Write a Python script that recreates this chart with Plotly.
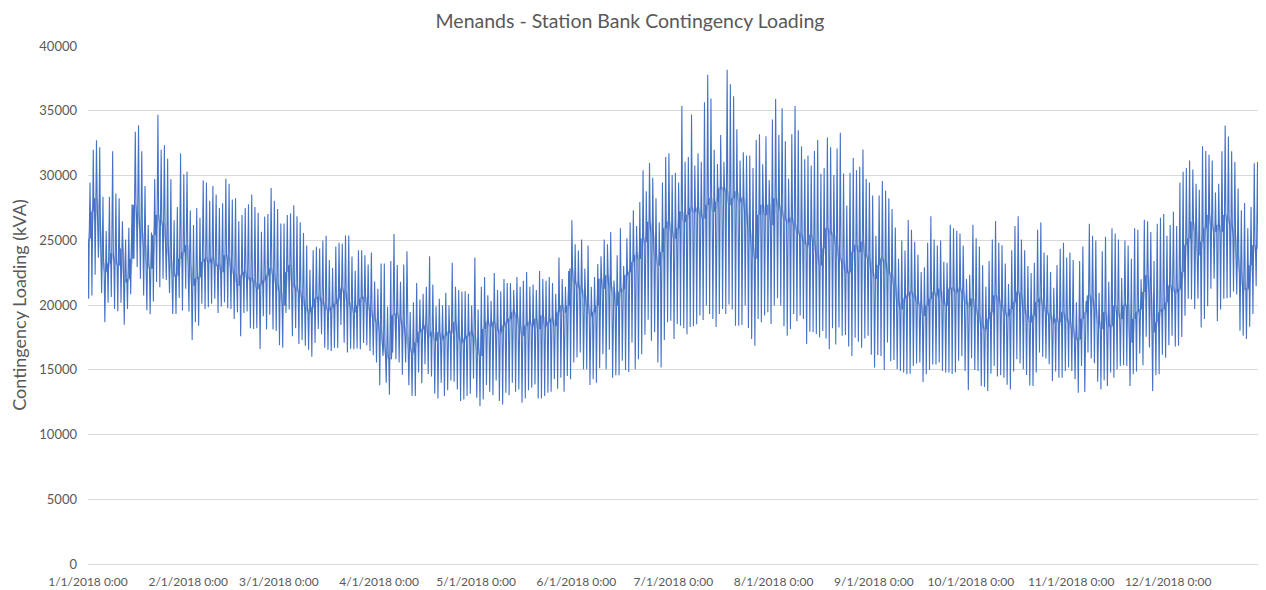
import numpy as np
import pandas as pd
import plotly.graph_objects as go

# Daily peak loading (kVA), starting 1/1/2018
daily_max = [
    29460, 31980, 32730, 32180, 28350, 25710, 28350, 31870, 28610, 28250, 26460, 25060, 25970, 27780, 33370, 33870,
    31870, 29180, 26170, 25600, 29720, 34700, 31980, 32340, 31300, 29720, 26540, 27570, 31690, 30100, 30290, 27290,
    26170, 27490, 26740, 29620, 29460, 28040, 29180, 28530, 27490, 27860, 29750, 29360, 28140, 28250, 26460, 26950,
    27490, 27780, 28530, 27570, 27130,
    25660, 26830, 27030, 29030, 28040, 27420, 26300, 26300, 26950, 27080, 27700, 26850, 26380, 25560, 24600, 22730,
    24230, 24490, 24360, 24980, 25350, 23480, 22860, 24520, 24800, 24720, 25370, 25370, 23740, 22650, 24230, 24230,
    23840, 23120, 24050, 21820, 21260, 23200, 23200, 19860, 23400, 25480, 23090, 21790, 23120, 24150, 19460, 20210,
    21690, 20420, 20860, 21400, 23760,
    21590, 19910, 20480, 19960, 20940, 19960, 23270, 21410, 21150, 21050, 21070, 20870, 19960, 23660, 19650, 21410,
    22160, 20760, 20300, 22470, 21150, 21070, 22000, 21690, 21670, 21150, 22160, 21410, 21870, 22550, 21410, 21590,
    21150, 22630, 22000, 21870, 22160, 21690, 20870, 23660, 22000, 21410, 22630, 26540, 24700, 24210, 25060, 22810,
    24600, 21410, 22160, 23170,
    23770, 25060, 24700, 25630, 21880, 23840, 25920, 23010, 25160, 26380, 27310, 26100, 27960, 30400, 28790, 30970,
    29830, 28250, 26380, 29460, 31430, 31720, 30030, 30220, 29460, 35370, 31070, 31430, 34720, 30780, 31720, 31070,
    35650, 37780, 35940, 31980, 30890, 33120, 31070, 38170, 37050, 36120, 33580, 31150, 31790, 31540, 31540, 30580,
    32750, 33190, 30860, 33040, 29650,
    34330, 35910, 33120, 35190, 32650, 29750, 33190, 35370, 33500, 32260, 31250, 31540, 30780, 31900, 32750, 30140,
    30580, 32930, 32180, 30030, 32080, 33300, 30160, 27680, 30220, 31350, 30400, 30680, 32000, 29750, 29460, 28450,
    25350, 28450, 29570, 28820, 28250, 27420, 25990, 23580, 24980, 24210, 26560, 25810, 24880, 23870, 22550, 22910,
    24800, 26850, 25060, 24600,
    24980, 23330, 23270, 26200, 25920, 25730, 25530, 24600, 22000, 22340, 26200, 25160, 24520, 23070, 21410, 23400,
    25060, 26490, 24800, 24620, 23200, 21620, 24230, 26100, 26850, 25060, 24230, 23010, 22470, 23270, 25810, 26380,
    24050, 23840, 22550, 21330, 23090, 24340, 24800, 23660, 24050, 23480, 20220, 23400, 24520, 20300, 26280, 25350,
    24980, 20940, 24150, 25270, 21800,
    25920, 25530, 25060, 22080, 24980, 24600, 23580, 25920, 25810, 21980, 26590, 26460, 25630, 23400, 26280, 26740,
    27030, 25350, 26170, 27210, 26100, 29460, 30290, 30580, 31150, 30470, 29360, 28890, 32260, 31900, 31610, 31150,
    28690, 29360, 31870, 33870, 33010, 31870, 31040, 29000, 27310, 27880, 25920, 27570, 30940, 31040, 30860, 31250,
]

# Daily minimum loading (kVA)
daily_min = [
    20480, 20740, 22340, 23640, 20920, 18670, 20170, 20610, 19700, 19520, 20170, 18480, 19700, 20840, 23580, 22940,
    22030, 20740, 19600, 19290, 20270, 21770, 21380, 22030, 21930, 20920, 19310, 19310, 20550, 19570, 21250, 19490,
    17290, 18670, 18400, 20090, 19700, 19830, 20090, 20480, 19390, 19880, 20220, 19750, 19700, 18920, 19440, 17580,
    19390, 19490, 18200, 18140, 18200,
    16600, 19130, 18100, 19240, 18100, 17990, 16900, 16700, 19390, 19650, 17580, 18200, 16980, 17290, 16850, 16540,
    16000, 17060, 18150, 17740, 16700, 16540, 16440, 16700, 16700, 18460, 17080, 16330, 16620, 16590, 16640, 16590,
    17060, 16900, 16440, 16130, 15560, 13800, 16070, 14000, 13070, 16330, 15820, 15560, 14620, 15560, 13800, 12970,
    12970, 14780, 13950, 15430, 14670,
    14470, 13150, 12780, 14000, 12970, 13410, 14180, 14080, 13480, 12580, 12710, 12970, 13150, 14310, 12840, 12190,
    12710, 13820, 13300, 13040, 14180, 12580, 12320, 13220, 13040, 14000, 13300, 13480, 12450, 12780, 13410, 13610,
    13870, 12780, 12780, 12970, 13220, 13300, 14260, 13540, 14390, 13300, 14520, 14260, 15560, 15940, 16330, 15040,
    15040, 13820, 14260, 14000,
    15120, 16200, 15040, 16540, 14390, 14570, 14570, 15690, 14990, 14830, 17110, 15040, 15820, 16200, 17710, 18870,
    17240, 17890, 15560, 15170, 17290, 18670, 18790, 17370, 18530, 18400, 18200, 17740, 18300, 18350, 18510, 19180,
    18840, 19960, 19310, 18920, 18300, 19310, 19700, 19310, 20040, 19650, 18400, 18400, 18460, 19960, 18220, 17370,
    16850, 18920, 18670, 19180, 19440,
    18530, 19960, 20530, 19960, 18350, 17630, 18150, 19310, 18740, 19180, 18920, 16980, 17940, 17890, 17760, 17500,
    17990, 17420, 16590, 18200, 16950, 18270, 17630, 17680, 16800, 16070, 17470, 17160, 16690, 17420, 17630, 16150,
    15170, 16130, 16070, 14990, 17110, 15660, 15760, 15040, 14910, 14780, 14650, 14700, 15300, 15480, 15560, 14060,
    14650, 14990, 15400, 15400,
    15560, 14910, 14780, 14780, 14680, 14780, 15690, 16070, 14910, 13430, 15890, 14990, 14910, 13740, 13660, 13350,
    14700, 15300, 14470, 14570, 14390, 13850, 13480, 14860, 15820, 15480, 15040, 14600, 13790, 13740, 14780, 16330,
    16000, 15870, 15430, 14130, 14860, 14390, 14390, 14910, 15170, 14910, 14260, 13220, 15300, 13280, 16330, 15870,
    15500, 14080, 13480, 14180, 13740,
    14780, 14390, 15040, 15300, 15350, 15300, 13740, 14650, 14860, 16260, 15350, 17550, 16720, 13350, 14570, 14650,
    16150, 15920, 16900, 17630, 16800, 16850, 17530, 19180, 20480, 20430, 19700, 20480, 18270, 18920, 19900, 21250,
    22030, 18740, 19650, 20480, 20530, 20580, 21050, 20810, 18010, 17630, 17370, 18330, 19310, 21440, 20680, 20860,
]

# Typical (most frequent) hourly level of each day (kVA)
daily_mid = [
    25140, 27220, 28250, 26170, 23320, 22550, 23200, 23970, 23320, 23060, 24360, 21770, 22030, 23580, 27730, 26950,
    25660, 24620, 23060, 22810, 25400, 26950, 26430, 26170, 24620, 23580, 22290, 22290, 23580, 24100, 24620, 23060,
    21510, 22030, 22160, 23320, 23580, 23320, 23580, 23060, 23060, 22550, 23840, 23580, 22810, 22290, 21510, 22290,
    22550, 22030, 22030, 21770, 21250,
    21640, 21900, 22290, 22810, 22290, 21510, 21000, 19960, 22550, 23060, 21510, 21250, 21000, 20480, 19700, 19440,
    19830, 20480, 20610, 20220, 19830, 19570, 19830, 20090, 20480, 21250, 21000, 20220, 19830, 19440, 19960, 20480,
    20610, 20090, 19570, 18920, 18670, 17890, 16850, 16070, 15820, 19180, 19310, 18920, 18400, 17630, 16590, 16330,
    17110, 17890, 18140, 18400, 17630,
    17890, 17240, 17890, 17370, 17630, 17890, 17890, 18670, 17630, 17110, 17370, 17630, 17890, 17500, 16590, 16070,
    18140, 18670, 18400, 18670, 18140, 17890, 18400, 18670, 18920, 19440, 19180, 18400, 17630, 18400, 18670, 18400,
    18920, 18140, 19180, 18400, 18670, 18920, 18400, 19440, 19960, 19440, 19960, 22810, 21770, 21510, 21250, 20740,
    19960, 19180, 19440, 19960,
    22030, 21250, 22290, 21510, 21000, 19960, 21000, 21250, 22290, 22550, 23320, 23840, 23580, 25140, 24880, 26430,
    25660, 23840, 23060, 24100, 25920, 26430, 25660, 25140, 25920, 27220, 26430, 26950, 27470, 27220, 27470, 26950,
    26690, 27730, 28250, 27220, 27990, 29020, 29020, 28760, 27730, 28250, 28760, 27990, 28250, 27220, 25660, 24360,
    23580, 26950, 27730, 26950, 27730,
    26170, 28250, 27730, 27220, 26690, 26430, 26690, 26170, 25660, 25400, 24880, 24620, 25400, 24880, 23840, 23060,
    24360, 25920, 25660, 25400, 24620, 23580, 23320, 22550, 22550, 24100, 24620, 24100, 24880, 23840, 23580, 22550,
    22030, 23060, 23580, 23320, 22550, 22290, 21510, 20220, 19700, 20480, 20740, 21000, 20740, 20220, 19960, 19180,
    19960, 20480, 21000, 20740,
    21250, 20220, 19960, 21250, 21250, 21000, 21250, 21000, 20220, 19960, 20480, 19700, 19180, 18400, 18140, 18920,
    19440, 20740, 20480, 19960, 19440, 19180, 19700, 20220, 21000, 20740, 19700, 19180, 18670, 19180, 20220, 20480,
    19960, 19440, 19180, 18670, 18920, 18670, 19440, 18920, 18670, 18140, 17370, 17370, 18920, 19440, 20740, 20480,
    19700, 18670, 18140, 19440, 18400,
    18400, 19960, 19440, 18920, 19960, 19960, 17110, 18920, 19440, 19700, 21000, 22290, 21000, 17890, 18670, 19440,
    19700, 20220, 21510, 21250, 21000, 21250, 22550, 24620, 25140, 26430, 25660, 23840, 24880, 25920, 26950, 26170,
    25660, 26170, 25660, 26950, 26690, 26170, 25400, 23580, 22550, 21250, 21250, 23060, 24620, 24360, 25400, 25920,
]

y_ticks = [0, 5000, 10000, 15000, 20000, 25000, 30000, 35000, 40000]
start_date = "2018-01-01"

n = len(daily_max)
base = pd.Timestamp(start_date)
mid = np.array(daily_mid)
lo = np.array(daily_min)
hi = np.array(daily_max)

# hourly-style path through each day: typical -> low -> typical -> peak -> typical
hours = np.array([0, 5, 9, 15, 20])
path_y = np.column_stack([mid, lo, mid, hi, mid]).ravel()
path_x = (base
          + pd.to_timedelta(np.repeat(np.arange(n), len(hours)), unit="D")
          + pd.to_timedelta(np.tile(hours, n), unit="h"))
band_x = base + pd.to_timedelta(np.arange(n), unit="D") + pd.Timedelta(hours=12)

line_color = "#4472C4"
text_color = "#595959"
grid_color = "#D9D9D9"
font_family = "Lato, 'Open Sans', sans-serif"

fig = go.Figure()
fig.add_trace(go.Scatter(x=path_x, y=path_y, mode="lines",
                         line=dict(color=line_color, width=1.1), hoverinfo="skip",
                         showlegend=False))
fig.add_trace(go.Scatter(x=band_x, y=mid, mode="lines",
                         line=dict(color="rgba(68,114,196,0.3)", width=3.5),
                         hoverinfo="skip", showlegend=False))

# the page body has an 8px margin, so the figure is sized and placed to fit inside it
fig.update_layout(
    width=1258, height=582,
    margin=dict(l=80, r=0, t=38, b=26),
    paper_bgcolor="white", plot_bgcolor="white",
    font=dict(family=font_family, color=text_color),
    title=dict(text="Menands - Station Bank Contingency Loading",
               x=622 / 1258, xref="container", xanchor="center",
               y=1 - 13 / 582, yref="container", yanchor="middle",
               pad=dict(t=0, b=0),
               font=dict(size=19.5, color=text_color, family=font_family)),
    showlegend=False,
)
fig.update_xaxes(
    type="date",
    range=[base, base + pd.Timedelta(days=364, hours=6)],
    tick0=start_date, dtick="M1",
    tickformat="%-m/%-d/%Y %-H:%M",
    tickfont=dict(size=12, color=text_color),
    showgrid=False, zeroline=False, showline=False,
    ticks="", ticklabelstandoff=9, automargin=False,
)
fig.update_yaxes(
    range=[0, 40000], tickvals=y_ticks, tickformat="d",
    tickfont=dict(size=13, color=text_color),
    showgrid=True, gridcolor=grid_color, gridwidth=1,
    zeroline=True, zerolinecolor=grid_color, zerolinewidth=1,
    showline=False, ticks="", ticklabelstandoff=10,
    title=dict(text="Contingency Loading (kVA)", standoff=8,
               font=dict(size=18, color=text_color)),
    automargin=False,
)

fig.write_html("out.html", config={"displayModeBar": False})
